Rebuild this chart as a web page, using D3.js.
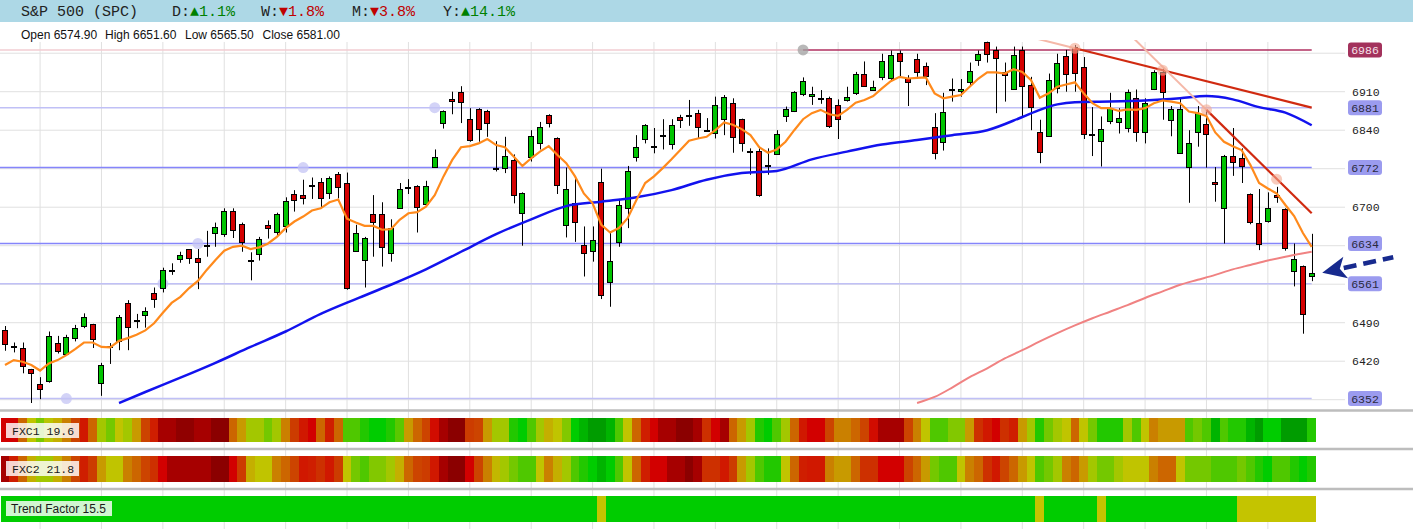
<!DOCTYPE html>
<html>
<head>
<meta charset="utf-8">
<script src="https://cdn.jsdelivr.net/npm/d3@7"></script>
<style>
  body { margin: 0; background: #fff; }
  svg { display: block; }
</style>
</head>
<body>
<svg></svg>
<script>
const [WIDTH, HEIGHT] = [1413, 529]

// header
const symbol = 'S&P 500 (SPC)'
const changes = [['D', 1.1], ['W', -1.8], ['M', -3.8], ['Y', 14.1]]
const ohlcLast = [['Open', 6574.90], ['High', 6651.60], ['Low', 6565.50], ['Close', 6581.00]]

// daily candles, oldest first
const open = [6477,6446,6444,6405,6378,6385,6454,6434,6462,6484,
  6487,6381,6447,6456,6525,6494,6504,6544,6553,6586,
  6606,6624,6607,6630,6654,6651,6693,6669,6604,6614,
  6667,6656,6665,6724,6722,6739,6745,6725,6760,6744,
  6621,6604,6688,6688,6618,6700,6737,6739,6706,6773,
  6854,6896,6910,6860,6878,6875,6772,6772,6785,6689,
  6791,6816,6867,6825,6667,6707,6632,6620,6745,6564,
  6636,6698,6792,6824,6811,6831,6814,6864,6868,6871,
  6840,6834,6860,6889,6860,6803,6802,6775,6798,6866,
  6875,6906,6903,6899,6898,6885,6895,6909,6943,6914,
  6936,6936,6980,6935,6969,6957,6846,6819,6914,6910,
  6928,6968,7001,6985,6945,6916,6985,6923,6836,6830,
  6918,6975,6991,6955,6831,6820,6857,6855,6844,6899,
  6837,6915,6945,6859,6799,6772,6836,6851,6746,6700,
  6794,6790,6724,6672,6674,6722,6696,6584,6593,6574.9]
const high = [6484,6454,6454,6406,6391,6474,6466,6468,6486,6507,
  6488,6417,6453,6504,6531,6506,6518,6554,6590,6598,
  6619,6624,6624,6657,6672,6698,6698,6672,6618,6646,
  6676,6690,6718,6731,6750,6754,6753,6756,6764,6763,
  6668,6646,6722,6709,6678,6744,6751,6740,6748,6805,
  6876,6910,6920,6880,6880,6877,6820,6828,6796,6727,
  6840,6855,6869,6827,6772,6753,6665,6665,6770,6654,
  6715,6775,6831,6851,6844,6860,6860,6868,6895,6877,
  6862,6901,6904,6898,6861,6807,6807,6807,6840,6883,
  6911,6936,6919,6913,6901,6896,6919,6946,6965,6930,
  6979,6985,6985,6940,6979,6963,6871,6908,6934,6933,
  6963,6985,7001,6992,6963,6992,6992,6937,6859,6943,
  6979,6986,6995,6973,6882,6865,6908,6880,6914,6914,
  6898,6949,6953,6884,6898,6840,6884,6874,6773,6795,
  6844,6807,6725,6733,6727,6737,6698,6634,6594,6651.6]
const low = [6439,6436,6398,6344,6351,6381,6434,6431,6456,6480,
  6444,6357,6415,6440,6440,6480,6481,6517,6545,6577,
  6599,6597,6551,6610,6628,6646,6644,6619,6567,6603,
  6643,6646,6654,6692,6705,6715,6699,6715,6716,6550,
  6619,6554,6610,6592,6601,6697,6724,6654,6701,6772,
  6843,6869,6853,6819,6819,6828,6765,6762,6707,6630,
  6783,6805,6845,6724,6645,6637,6574,6601,6533,6519,
  6628,6662,6783,6816,6798,6805,6805,6844,6848,6825,
  6837,6825,6831,6799,6801,6759,6719,6759,6795,6855,
  6873,6902,6886,6888,6844,6824,6892,6904,6919,6913,
  6931,6931,6937,6884,6937,6922,6787,6803,6892,6901,
  6920,6957,6963,6871,6892,6914,6863,6840,6780,6828,
  6907,6910,6910,6824,6793,6774,6851,6834,6836,6819,
  6816,6913,6859,6829,6798,6708,6810,6772,6710,6634,
  6757,6744,6669,6622,6672,6708,6621,6556,6470,6565.5]
const close = [6451,6448,6411,6397,6369,6466,6439,6464,6480,6500,
  6460,6414,6446,6500,6482,6494,6511,6533,6586,6586,
  6614,6607,6599,6631,6664,6693,6658,6637,6604,6642,
  6662,6688,6711,6714,6716,6740,6716,6753,6737,6553,
  6653,6644,6673,6628,6663,6734,6737,6700,6738,6791,
  6875,6893,6892,6822,6842,6853,6771,6794,6722,6726,
  6830,6845,6853,6739,6733,6673,6618,6640,6539,6602,
  6704,6765,6810,6849,6811,6832,6849,6858,6868,6846,
  6841,6885,6900,6828,6816,6802,6722,6776,6834,6879,
  6909,6930,6906,6899,6848,6859,6901,6943,6922,6919,
  6965,6977,6965,6927,6945,6939,6798,6874,6915,6914,
  6948,6979,6980,6971,6940,6977,6920,6883,6799,6931,
  6963,6943,6943,6833,6833,6842,6880,6862,6909,6837,
  6889,6945,6909,6879,6879,6816,6871,6833,6742,6794,
  6784,6776,6673,6634,6698,6718,6625,6605,6505,6581]

// short moving average (orange), read at every candle
const maShort = [6413,6422,6419,6413,6403,6416,6422,6431,6442,6454,
  6454,6446,6445,6457,6462,6468,6476,6489,6508,6526,
  6537,6553,6566,6586,6604,6621,6628,6630,6624,6627,
  6634,6646,6662,6674,6683,6694,6698,6709,6714,6679,
  6672,6666,6666,6659,6660,6677,6689,6691,6701,6722,
  6756,6786,6809,6811,6816,6824,6813,6809,6792,6775,
  6789,6801,6811,6795,6780,6756,6725,6707,6668,6654,
  6662,6680,6713,6744,6756,6771,6787,6804,6821,6825,
  6828,6840,6854,6850,6842,6831,6809,6799,6805,6819,
  6840,6860,6871,6877,6869,6866,6877,6890,6895,6902,
  6916,6929,6937,6934,6935,6936,6907,6898,6901,6904,
  6919,6934,6945,6945,6943,6951,6946,6931,6899,6907,
  6919,6923,6927,6907,6889,6880,6880,6875,6878,6877,
  6880,6889,6894,6892,6889,6874,6871,6866,6836,6819,
  6811,6804,6777,6744,6734,6725,6704,6684,6653,6628]

// medium moving average (blue), read at sampled candles
const maMidIdx = [13,16,20,24,28,32,36,40,44,48,52,56,60,64,68,72,76,80,84,88,92,96,100,104,108,112,116,118,120,122,126,130,134,137,140,143,146,149]
const maMid = [6344,6364,6390,6417,6446,6474,6506,6533,6559,6587,6619,6651,6678,6702,6710,6718,6731,6750,6762,6766,6787,6801,6814,6822,6831,6840,6864,6877,6887,6891,6892,6894,6898,6902,6896,6882,6872,6849]

// long moving average (pink), read at sampled candles
const maLongIdx = [104,106,108,110,112,114,116,118,120,122,124,126,128,130,132,134,136,138,140,142,144,146,149]
const maLong = [6344,6355,6372,6391,6407,6425,6440,6456,6471,6485,6498,6510,6522,6535,6547,6559,6568,6577,6587,6595,6603,6610,6619]

// support / resistance levels and the candle where each one starts
const levels = [6986, 6881, 6772, 6634, 6561, 6352]
const levelFrom = [91, 49, 34, 22, 18, 7]
const levelKind = ['peak', 'weak', 'strong', 'strong', 'weak', 'weak']

// price grid
const gridPrices = [6350, 6420, 6490, 6560, 6630, 6700, 6770, 6840, 6910, 6980]

// trend lines: [candle, price] pairs
const trendLines = [
  { ext: 117.4, from: [122, 6989], to: [149, 6881] },
  { ext: 128.6, from: [137, 6877], to: [149, 6689] }
]
const trendTouches = [[122, 6989], [132, 6949], [137, 6877], [145, 6751]]

// indicator strips (0 = weakest/red, 120 = strongest/green)
const fxc1 = [20,20,40,60,75,62,55,45,32,24,
  40,68,76,60,68,50,32,25,10,10,
  2,2,10,10,0,0,40,50,68,68,
  76,68,45,30,24,20,40,25,40,82,
  82,90,100,100,90,80,50,40,32,22,
  10,0,0,30,32,50,68,68,90,100,
  82,68,55,60,74,100,108,118,118,108,
  82,60,40,25,20,10,10,0,0,10,
  28,20,10,40,50,68,90,100,82,68,
  40,24,20,20,32,45,45,40,32,22,
  10,10,10,32,45,60,82,82,74,74,
  50,28,24,20,28,25,50,68,90,76,
  68,60,40,60,76,90,90,90,68,82,
  60,45,50,50,50,82,76,82,108,82,
  90,90,108,118,100,100,118,118,118,90]
const fxc2 = [10,25,40,55,68,68,55,45,32,25,
  30,50,60,60,45,40,32,28,20,10,
  10,10,10,10,0,0,20,30,55,60,
  60,45,40,32,24,25,28,24,30,60,
  76,82,74,74,68,55,40,32,30,24,
  10,0,0,20,32,45,57,68,76,82,
  82,60,45,55,68,82,90,100,108,100,
  82,60,40,25,20,20,10,10,0,10,
  28,28,24,30,50,68,82,90,90,60,
  40,25,24,24,45,50,50,40,28,28,
  20,20,20,32,40,50,76,82,82,60,
  45,40,28,24,32,40,50,60,82,76,
  68,45,40,50,68,76,76,68,60,60,
  60,45,40,40,60,76,76,76,82,82,
  82,76,82,90,100,82,82,90,100,90]
const trendWeak = [68, 118, 125, 141, 142, 143, 144, 145, 146, 147, 148, 149]
const stripLabels = [['FXC1', 19.6], ['FXC2', 21.8], ['Trend Factor', 15.5]]

// arrow annotation pointing at the last close
const arrowTip = [150.2, 6581]
const arrowTail = [158.3, 6609]

// ---------------------------------------------------------------
const svg = d3.select('svg').attr('width', WIDTH).attr('height', HEIGHT)
  .attr('viewBox', `0 0 ${WIDTH} ${HEIGHT}`)

const x = d3.scaleLinear().domain([0, 149]).range([5, 1311.7])
const y = d3.scaleLinear().domain([6420, 6910]).range([361.2, 91.7])
const step = x(1) - x(0)
const PLOT_RIGHT = 1345

svg.append('rect').attr('width', WIDTH).attr('height', HEIGHT).attr('fill', '#fff')

// vertical grid runs through every panel
svg.append('g').selectAll('line')
  .data(d3.range(4, close.length, 7))
  .join('line')
  .attr('x1', d => x(d)).attr('x2', d => x(d))
  .attr('y1', 42).attr('y2', HEIGHT)
  .attr('stroke', '#e0e0e0')

// header bar
svg.append('rect').attr('width', WIDTH).attr('height', 22).attr('fill', '#add8e6')
const mono = '"Liberation Mono", "DejaVu Sans Mono", monospace'
svg.append('text').attr('x', 21).attr('y', 16)
  .attr('font-family', mono).attr('font-size', 15).attr('fill', '#222')
  .text(symbol)
const changeX = [172, 261, 352, 443]
changes.forEach(([k, v], i) => {
  const t = svg.append('text').attr('x', changeX[i]).attr('y', 16)
    .attr('font-family', mono).attr('font-size', 15)
  t.append('tspan').attr('fill', '#222').text(k + ':')
  t.append('tspan').attr('fill', v >= 0 ? '#008000' : '#c00000')
    .text((v >= 0 ? '▲' : '▼') + Math.abs(v).toFixed(1) + '%')
})

const ohlcX = [21, 105, 185, 262.5]
svg.append('g').selectAll('text').data(ohlcLast).join('text')
  .attr('x', (d, i) => ohlcX[i]).attr('y', 39)
  .attr('font-family', '"Liberation Sans", Arial, sans-serif').attr('font-size', 12)
  .attr('fill', '#111')
  .text(d => d[0] + ' ' + d[1].toFixed(2))

// horizontal price grid
svg.append('g').selectAll('line').data(gridPrices).join('line')
  .attr('x1', 0).attr('x2', PLOT_RIGHT)
  .attr('y1', d => y(d)).attr('y2', d => y(d))
  .attr('stroke', '#e0e0e0')

// right axis labels
const nearLevel = p => levels.some(l => Math.abs(l - p) < 15)
svg.append('g').selectAll('text').data(gridPrices.filter(p => !nearLevel(p))).join('text')
  .attr('x', 1352).attr('y', d => y(d) + 4)
  .attr('font-family', mono).attr('font-size', 11.5).attr('fill', '#222')
  .text(d => d)

const lab = svg.append('g').selectAll('g').data(levels).join('g')
lab.append('rect')
  .attr('x', 1348).attr('y', d => y(d) - 7.5).attr('width', 34).attr('height', 15).attr('rx', 3)
  .attr('fill', (d, i) => levelKind[i] === 'peak' ? '#a3325c' : '#9b9bef')
lab.append('text')
  .attr('x', 1365).attr('y', d => y(d) + 4).attr('text-anchor', 'middle')
  .attr('font-family', mono).attr('font-size', 11.5)
  .attr('fill', (d, i) => levelKind[i] === 'peak' ? '#f6e2ea' : '#2a2a40')
  .text(d => d)

// price panel
svg.append('clipPath').attr('id', 'plotclip')
  .append('rect').attr('x', 0).attr('y', 40).attr('width', PLOT_RIGHT).attr('height', 365)
const plot = svg.append('g').attr('clip-path', 'url(#plotclip)')

const levelColor = { peak: '#b03060', strong: '#8585fb', weak: '#c0c0f6' }
levels.forEach((l, i) => {
  if (levelKind[i] === 'peak') {
    plot.append('line').attr('x1', 0).attr('x2', x(levelFrom[i]))
      .attr('y1', y(l)).attr('y2', y(l)).attr('stroke', '#f2cdd2').attr('stroke-width', 1.5)
  }
  plot.append('line')
    .attr('x1', levelKind[i] === 'peak' ? x(levelFrom[i]) : 0).attr('x2', x(149))
    .attr('y1', y(l)).attr('y2', y(l))
    .attr('stroke', levelColor[levelKind[i]]).attr('stroke-width', 1.5)
})
plot.append('g').selectAll('circle').data(levels).join('circle')
  .attr('cx', (d, i) => x(levelFrom[i])).attr('cy', d => y(d)).attr('r', 5.5)
  .attr('fill', (d, i) => levelKind[i] === 'peak' ? '#a0a0a0' : '#c4c4f4')
  .attr('opacity', 0.75)

// candles
const cx = i => Math.round(x(i))
const candles = plot.append('g').selectAll('g').data(d3.range(close.length)).join('g')
candles.append('line')
  .attr('x1', i => cx(i) + 0.5).attr('x2', i => cx(i) + 0.5)
  .attr('y1', i => y(high[i])).attr('y2', i => y(low[i]))
  .attr('stroke', '#000')
candles.append('rect')
  .attr('x', i => cx(i) - 2.5).attr('width', 5)
  .attr('y', i => Math.round(y(Math.max(open[i], close[i]))) + 0.5)
  .attr('height', i => Math.max(1, Math.round(Math.abs(y(open[i]) - y(close[i])))))
  .attr('fill', i => close[i] >= open[i] ? '#00c400' : '#d40000')
  .attr('stroke', '#000')

// moving averages
const lineIdx = (idx, vals, curve) => d3.line()
  .x((d, k) => x(idx[k])).y(d => y(d)).curve(curve)(vals)
plot.append('path').attr('d', lineIdx(maLongIdx, maLong, d3.curveMonotoneX))
  .attr('fill', 'none').attr('stroke', '#f08282').attr('stroke-width', 2)
plot.append('path').attr('d', lineIdx(maMidIdx, maMid, d3.curveMonotoneX))
  .attr('fill', 'none').attr('stroke', '#1212ee').attr('stroke-width', 2.5)
plot.append('path').attr('d', lineIdx(d3.range(maShort.length), maShort, d3.curveLinear))
  .attr('fill', 'none').attr('stroke', '#ff8a1c').attr('stroke-width', 2.2)

// trend lines
trendLines.forEach(t => {
  const slope = (t.to[1] - t.from[1]) / (t.to[0] - t.from[0])
  const extPrice = t.from[1] + slope * (t.ext - t.from[0])
  plot.append('line')
    .attr('x1', x(t.ext)).attr('y1', y(extPrice))
    .attr('x2', x(t.from[0])).attr('y2', y(t.from[1]))
    .attr('stroke', '#f5b8a8').attr('stroke-width', 2)
  plot.append('line')
    .attr('x1', x(t.from[0])).attr('y1', y(t.from[1]))
    .attr('x2', x(t.to[0])).attr('y2', y(t.to[1]))
    .attr('stroke', '#d02a10').attr('stroke-width', 2.2)
})
plot.append('g').selectAll('circle').data(trendTouches).join('circle')
  .attr('cx', d => x(d[0])).attr('cy', d => y(d[1])).attr('r', 5.5)
  .attr('fill', '#f4a890').attr('opacity', 0.6)

// arrow
{
  const [tx, ty] = [x(arrowTip[0]), y(arrowTip[1])]
  const [sx, sy] = [x(arrowTail[0]), y(arrowTail[1])]
  const len = Math.hypot(sx - tx, sy - ty)
  const ux = (sx - tx) / len, uy = (sy - ty) / len
  const head = 24, half = 11
  const bx = tx + ux * head, by = ty + uy * head
  svg.append('line')
    .attr('x1', bx - ux * 2).attr('y1', by - uy * 2).attr('x2', sx).attr('y2', sy)
    .attr('stroke', '#172a8e').attr('stroke-width', 4.5).attr('stroke-dasharray', '13,7')
  svg.append('path')
    .attr('d', `M${tx},${ty} L${bx - uy * half},${by + ux * half} L${tx + ux * head * 0.75},${ty + uy * head * 0.75} L${bx + uy * half},${by - ux * half} Z`)
    .attr('fill', '#172a8e')
}

// indicator strips
const heat = d3.scaleLinear()
  .domain([0, 10, 20, 30, 40, 50, 60, 70, 80, 90, 100, 110, 120])
  .range(['#8b0000', '#a60000', '#d20000', '#cc3c00', '#cc6600', '#c89a00', '#c0c400',
    '#9cc800', '#5ac800', '#22c800', '#00cc00', '#00ae00', '#009800'])
  .clamp(true)

const strips = [
  { vals: fxc1, y0: 418, h: 24 },
  { vals: fxc2, y0: 456, h: 26 },
  { vals: d3.range(close.length).map(i => trendWeak.includes(i) ? 0 : 1), y0: 496, h: 26, tf: true }
]
strips.forEach((s, k) => {
  svg.append('g').selectAll('rect').data(s.vals).join('rect')
    .attr('x', (d, i) => x(i) - step / 2).attr('width', step + 0.4)
    .attr('y', s.y0).attr('height', s.h)
    .attr('shape-rendering', 'crispEdges')
    .attr('fill', d => s.tf ? (d ? '#00cc00' : '#c4c400') : heat(d))
  const [name, v] = stripLabels[k]
  const isTf = !!s.tf
  svg.append('rect').attr('x', 6).attr('y', s.y0 + 5).attr('height', 15)
    .attr('width', isTf ? 106 : 73)
    .attr('fill', '#fff').attr('opacity', 0.82)
  svg.append('text').attr('x', isTf ? 11 : 12).attr('y', s.y0 + 16.5)
    .attr('font-family', isTf ? '"Liberation Sans", Arial, sans-serif' : mono)
    .attr('font-size', isTf ? 12 : 11.5).attr('fill', '#1a1a1a')
    .attr('xml:space', 'preserve')
    .text(isTf ? `${name} ${v.toFixed(1)}` : `${name} ${v.toFixed(1)}`)
})

// panel separators
svg.append('g').selectAll('line').data([410.5, 449, 489]).join('line')
  .attr('x1', 0).attr('x2', WIDTH).attr('y1', d => d).attr('y2', d => d)
  .attr('stroke', '#bdbdbd').attr('stroke-width', 2.5)
</script>
</body>
</html>
